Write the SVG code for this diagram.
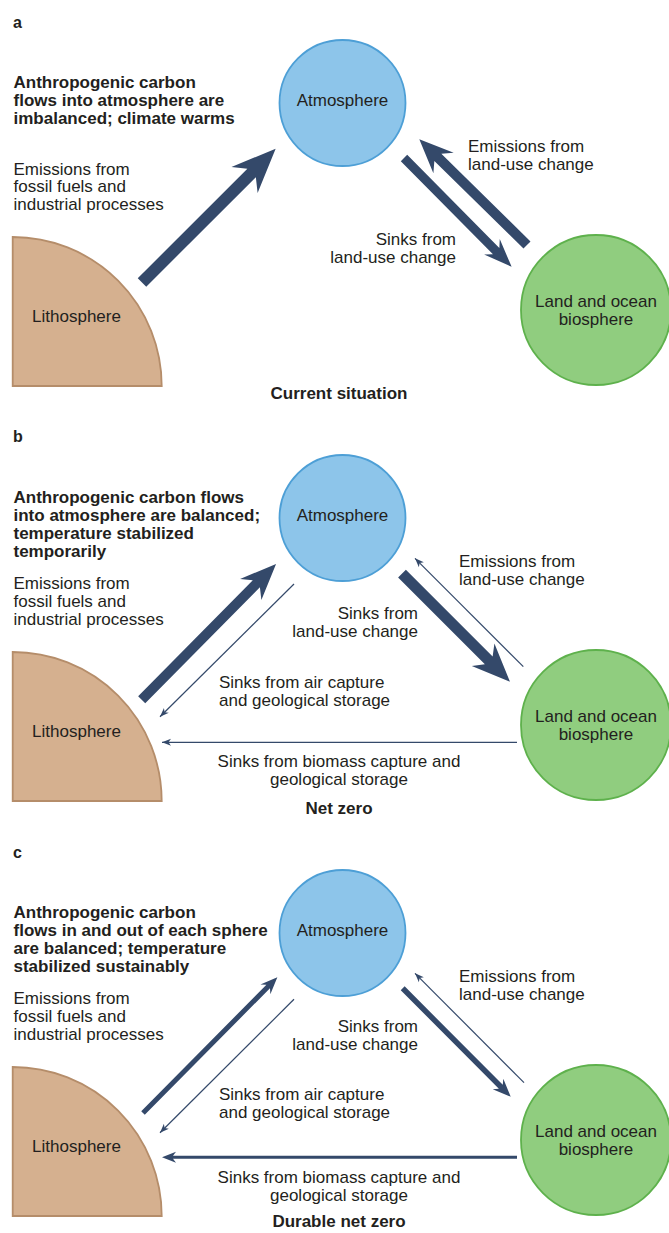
<svg xmlns="http://www.w3.org/2000/svg" width="669" height="1233" viewBox="0 0 669 1233">
<defs>
<style>
.t{font-family:"Liberation Sans",Arial,sans-serif;font-size:17px;fill:#231f20}
.b{font-weight:bold}
.m{text-anchor:middle}
.e{text-anchor:end}
.lbl{font-family:"Liberation Sans",Arial,sans-serif;font-size:16px;font-weight:bold;fill:#231f20}
.atm{fill:#8dc5ea;stroke:#4d9fd6;stroke-width:1.8}
.land{fill:#90cd7f;stroke:#5eb14c;stroke-width:1.8}
.lith{fill:#d5b08f;stroke:#b58d6a;stroke-width:1.8}
.arr{fill:#34496a}
.thin{stroke:#34496a;stroke-width:1.2;fill:none;marker-end:url(#head)}
</style>
<marker id="head" markerUnits="userSpaceOnUse" markerWidth="12" markerHeight="10" viewBox="-10 -5 12 10" refX="0" refY="0" orient="auto">
<path d="M0,0 L-9,-3.5 L-6.5,0 L-9,3.5 Z" fill="#34496a"/>
</marker>
</defs>

<!-- Panel labels -->
<g id="panel-labels">
<text class="lbl" x="13" y="28">a</text>
<text class="lbl" x="13" y="442">b</text>
<text class="lbl" x="13" y="858">c</text>
</g>

<!-- Panel a nodes -->
<g id="a-atmosphere"><circle class="atm" cx="342.5" cy="103" r="63"/><text class="t m" x="342.5" y="106">Atmosphere</text></g>
<g id="a-land"><circle class="land" cx="596" cy="310" r="75"/><text class="t m" x="596" y="307">Land and ocean</text><text class="t m" x="596" y="325">biosphere</text></g>
<g id="a-lithosphere"><path class="lith" d="M12.7,237 A149,149 0 0 1 161.7,386 L12.7,386 Z"/><text class="t m" x="76.5" y="322">Lithosphere</text></g>

<!-- Panel b nodes -->
<g id="b-atmosphere"><circle class="atm" cx="342.5" cy="518" r="63"/><text class="t m" x="342.5" y="521">Atmosphere</text></g>
<g id="b-land"><circle class="land" cx="596" cy="725" r="75"/><text class="t m" x="596" y="722">Land and ocean</text><text class="t m" x="596" y="740">biosphere</text></g>
<g id="b-lithosphere"><path class="lith" d="M12.7,652 A149,149 0 0 1 161.7,801 L12.7,801 Z"/><text class="t m" x="76.5" y="737">Lithosphere</text></g>

<!-- Panel c nodes -->
<g id="c-atmosphere"><circle class="atm" cx="342.5" cy="933" r="63"/><text class="t m" x="342.5" y="936">Atmosphere</text></g>
<g id="c-land"><circle class="land" cx="596" cy="1140" r="75"/><text class="t m" x="596" y="1137">Land and ocean</text><text class="t m" x="596" y="1155">biosphere</text></g>
<g id="c-lithosphere"><path class="lith" d="M12.7,1067 A149,149 0 0 1 161.7,1216 L12.7,1216 Z"/><text class="t m" x="76.5" y="1152">Lithosphere</text></g>

<!-- Connectors -->
<g id="connectors">
<!-- a -->
<polygon class="arr" transform="translate(142,282.5) rotate(-45)" points="0,-6 155,-6 145,-18.5 189,0 145,18.5 155,6 0,6"/>
<polygon class="arr" transform="translate(527,245) rotate(-135.5)" points="0,-5 125,-5 117,-14.5 151,0 117,14.5 125,5 0,5"/>
<polygon class="arr" transform="translate(404,158) rotate(45.3)" points="0,-4.5 131,-4.5 125,-11 153,0 125,11 131,4.5 0,4.5"/>
<!-- b -->
<polygon class="arr" transform="translate(141.7,699.7) rotate(-45.3)" points="0,-5 163,-5 155,-15 191,0 155,15 163,5 0,5"/>
<polygon class="arr" transform="translate(402,573.7) rotate(45)" points="0,-5.5 122.7,-5.5 114.7,-16 152.7,0 114.7,16 122.7,5.5 0,5.5"/>
<line class="thin" x1="294" y1="584" x2="160" y2="716.7"/>
<line class="thin" x1="523.3" y1="666.7" x2="415" y2="558.3"/>
<line class="thin" x1="517" y1="742.3" x2="162" y2="742.3"/>
<!-- c -->
<polygon class="arr" transform="translate(143,1113) rotate(-45.3)" points="0,-2.5 178,-2.5 174,-7 191,0 174,7 178,2.5 0,2.5"/>
<polygon class="arr" transform="translate(402.7,988.3) rotate(45.1)" points="0,-2.75 139,-2.75 135,-7.5 153,0 135,7.5 139,2.75 0,2.75"/>
<line class="thin" x1="294" y1="999.3" x2="160" y2="1132.7"/>
<line class="thin" x1="524" y1="1082.7" x2="415" y2="973.3"/>
<polygon class="arr" transform="translate(517,1157.3) rotate(180)" points="0,-1.5 344,-1.5 341,-5.5 355,0 341,5.5 344,1.5 0,1.5"/>
</g>

<!-- Panel a texts -->
<g id="a-texts">
<text class="t b" x="13.5" y="88">Anthropogenic carbon</text>
<text class="t b" x="13.5" y="106">flows into atmosphere are</text>
<text class="t b" x="13.5" y="124">imbalanced; climate warms</text>
<text class="t" x="13.5" y="174.5">Emissions from</text>
<text class="t" x="13.5" y="192">fossil fuels and</text>
<text class="t" x="13.5" y="209.5">industrial processes</text>
<text class="t" x="468" y="151.5">Emissions from</text>
<text class="t" x="468" y="169.5">land-use change</text>
<text class="t e" x="456" y="245">Sinks from</text>
<text class="t e" x="456" y="263">land-use change</text>
<text class="t b m" x="339" y="399">Current situation</text>
</g>

<!-- Panel b texts -->
<g id="b-texts">
<text class="t b" x="13.5" y="503">Anthropogenic carbon flows</text>
<text class="t b" x="13.5" y="521">into atmosphere are balanced;</text>
<text class="t b" x="13.5" y="539">temperature stabilized</text>
<text class="t b" x="13.5" y="557">temporarily</text>
<text class="t" x="13.5" y="589">Emissions from</text>
<text class="t" x="13.5" y="606.5">fossil fuels and</text>
<text class="t" x="13.5" y="624.5">industrial processes</text>
<text class="t" x="459" y="566.5">Emissions from</text>
<text class="t" x="459" y="584.5">land-use change</text>
<text class="t e" x="418" y="619">Sinks from</text>
<text class="t e" x="418" y="637">land-use change</text>
<text class="t" x="219" y="688">Sinks from air capture</text>
<text class="t" x="219" y="706">and geological storage</text>
<text class="t m" x="339" y="767">Sinks from biomass capture and</text>
<text class="t m" x="339" y="785">geological storage</text>
<text class="t b m" x="339" y="814">Net zero</text>
</g>

<!-- Panel c texts -->
<g id="c-texts">
<text class="t b" x="13.5" y="918">Anthropogenic carbon</text>
<text class="t b" x="13.5" y="936">flows in and out of each sphere</text>
<text class="t b" x="13.5" y="954">are balanced; temperature</text>
<text class="t b" x="13.5" y="972">stabilized sustainably</text>
<text class="t" x="13.5" y="1004">Emissions from</text>
<text class="t" x="13.5" y="1021.5">fossil fuels and</text>
<text class="t" x="13.5" y="1039.5">industrial processes</text>
<text class="t" x="459" y="981.5">Emissions from</text>
<text class="t" x="459" y="999.5">land-use change</text>
<text class="t e" x="418" y="1031.5">Sinks from</text>
<text class="t e" x="418" y="1049.5">land-use change</text>
<text class="t" x="219" y="1099.5">Sinks from air capture</text>
<text class="t" x="219" y="1117.5">and geological storage</text>
<text class="t m" x="339" y="1182.5">Sinks from biomass capture and</text>
<text class="t m" x="339" y="1200.5">geological storage</text>
<text class="t b m" x="339" y="1227">Durable net zero</text>
</g>
</svg>
